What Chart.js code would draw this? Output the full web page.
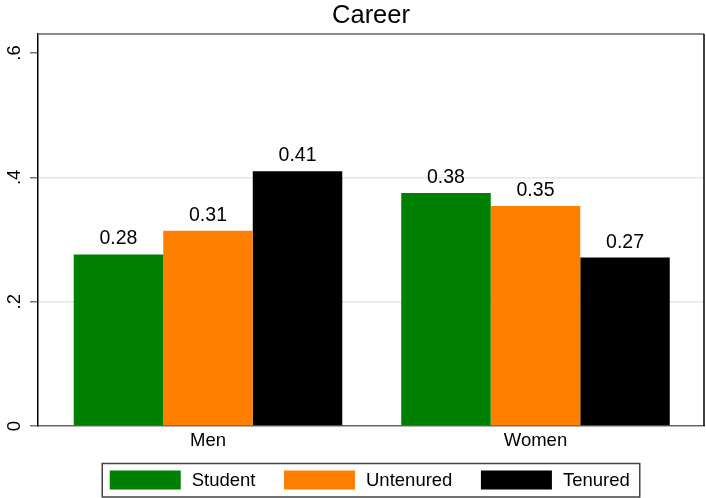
<!DOCTYPE html>
<html>
<head>
<meta charset="utf-8">
<script src="https://cdn.jsdelivr.net/npm/chart.js@4.4.1/dist/chart.umd.min.js"></script>
<style>
  html, body { margin: 0; padding: 0; background: #fff; }
  #wrap { width: 706px; height: 498px; position: relative; }
</style>
</head>
<body>
<div id="wrap"><canvas id="c" width="706" height="498"></canvas></div>
<script>
// ---- data ----
const chartTitle = "Career";
const categories = ["Men", "Women"];
const seriesNames = ["Student", "Untenured", "Tenured"];
const studentValues = [0.276, 0.375];
const untenuredValues = [0.314, 0.354];
const tenuredValues = [0.410, 0.271];
const yTickValues = [0, 0.2, 0.4, 0.6];
const yTickLabels = ["0", ".2", ".4", ".6"];
const seriesColors = ["#008000", "#ff8000", "#000000"];

const FONT = "'Liberation Sans', Arial, Helvetica, sans-serif";
const allSeries = [studentValues, untenuredValues, tenuredValues];

const datasets = seriesNames.map((name, s) => ({
  label: name,
  data: allSeries[s].map((v, i) => ({ x: i, y: v })),
  backgroundColor: seriesColors[s],
  borderWidth: 0,
  categoryPercentage: 0.82,
  barPercentage: 1.0
}));

const decorPlugin = {
  id: 'decor',
  afterDraw(chart) {
    const ctx = chart.ctx;
    const a = chart.chartArea;
    const ys = chart.scales.y;
    ctx.save();
    // frame: top and right
    ctx.lineWidth = 1.5;
    ctx.strokeStyle = '#666666';
    ctx.beginPath();
    ctx.moveTo(a.left, a.top);
    ctx.lineTo(a.right, a.top);
    ctx.stroke();
    ctx.strokeStyle = '#000000';
    ctx.beginPath();
    ctx.moveTo(a.right, a.top);
    ctx.lineTo(a.right, a.bottom);
    ctx.stroke();

    // title
    const midX = (a.left + a.right) / 2;
    ctx.fillStyle = '#000';
    ctx.font = "25.5px " + FONT;
    ctx.textAlign = 'center';
    ctx.textBaseline = 'alphabetic';
    ctx.fillText(chartTitle, midX, 23);

    // y tick labels (rotated)
    ctx.font = "18.5px " + FONT;
    yTickValues.forEach((v, i) => {
      const py = ys.getPixelForValue(v);
      ctx.save();
      ctx.translate(15, py);
      ctx.rotate(-Math.PI / 2);
      ctx.textAlign = 'center';
      ctx.textBaseline = 'middle';
      ctx.fillText(yTickLabels[i], 0, 0);
      ctx.restore();
    });

    // value labels
    ctx.font = "19.5px " + FONT;
    ctx.textAlign = 'center';
    ctx.textBaseline = 'alphabetic';
    chart.data.datasets.forEach((ds, di) => {
      const meta = chart.getDatasetMeta(di);
      meta.data.forEach((bar, i) => {
        const v = ds.data[i].y;
        ctx.fillText(v.toFixed(2), bar.x, bar.y - 10);
      });
    });

    // legend
    ctx.font = "18.5px " + FONT;
    const swW = 71, swH = 19, gap = 11, spacing = 28.5, padL = 7.5, padR = 10;
    const widths = seriesNames.map(n => ctx.measureText(n).width);
    let content = 0;
    widths.forEach((w, i) => { content += swW + gap + w + (i < widths.length - 1 ? spacing : 0); });
    const boxW = content + padL + padR;
    const boxL = midX - boxW / 2;
    const boxT = 463.5, boxB = 497;
    ctx.lineWidth = 1.5;
    ctx.strokeStyle = '#444';
    ctx.strokeRect(boxL, boxT, boxW, boxB - boxT);
    let x = boxL + padL;
    const cy = 480;
    seriesNames.forEach((n, i) => {
      ctx.fillStyle = seriesColors[i];
      ctx.fillRect(x, cy - swH / 2, swW, swH);
      x += swW + gap;
      ctx.fillStyle = '#000';
      ctx.textAlign = 'left';
      ctx.textBaseline = 'middle';
      ctx.fillText(n, x, cy + 1);
      x += widths[i] + spacing;
    });
    ctx.restore();
  }
};

const plotLeft = 38, plotRight = 704, c0 = 208, c1 = 535.5;
const unit = c1 - c0;

new Chart(document.getElementById('c'), {
  type: 'bar',
  data: { datasets },
  options: {
    responsive: false,
    animation: false,
    devicePixelRatio: 1,
    layout: { padding: { top: 34, right: 2, left: 0, bottom: 0 } },
    plugins: {
      legend: { display: false },
      title: { display: false },
      tooltip: { enabled: false }
    },
    scales: {
      x: {
        type: 'linear',
        offset: false,
        min: (plotLeft - c0) / unit,
        max: (plotRight - c0) / unit,
        afterBuildTicks: (scale) => { scale.ticks = categories.map((c, i) => ({ value: i })); },
        afterFit: (scale) => { scale.height = 72; },
        grid: { display: false, drawTicks: false, offset: false },
        border: { display: true, color: '#666666', width: 1.5 },
        ticks: {
          autoSkip: false,
          padding: 4,
          color: '#000',
          font: { family: FONT, size: 18.5 },
          callback: (v) => categories[v] !== undefined ? categories[v] : ''
        }
      },
      y: {
        min: 0,
        max: 0.6306,
        afterBuildTicks: (scale) => { scale.ticks = yTickValues.map(v => ({ value: v })); },
        afterFit: (scale) => { scale.width = 38; },
        grid: {
          color: (ctx) => (ctx.tick && ctx.tick.value > 0.1 && ctx.tick.value < 0.5) ? '#e6e6e6' : 'rgba(0,0,0,0)',
          lineWidth: 1.5,
          drawTicks: true,
          tickLength: 8,
          tickColor: '#777777',
          tickWidth: 1.5
        },
        border: { display: true, color: '#000000', width: 1.5 },
        ticks: { display: false }
      }
    }
  },
  plugins: [decorPlugin]
});
</script>
</body>
</html>
